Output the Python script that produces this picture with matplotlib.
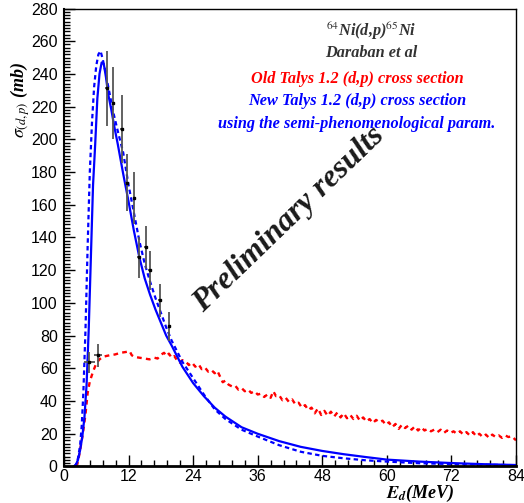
import matplotlib.pyplot as plt
from matplotlib.ticker import MultipleLocator

plt.rcParams['mathtext.fontset'] = 'stix'

# Daraban et al experimental points
exp_e = [4.74, 6.3, 8.05, 9.2, 10.8, 11.7, 13.1, 13.9, 15.2, 15.9, 17.8, 19.6]
exp_sig = [63.6, 67.9, 231.3, 222.5, 206.4, 173.5, 164.0, 128.0, 134.0, 120.0, 101.6, 85.7]
exp_dsig = [6.5, 7.0, 23.0, 22.0, 21.0, 17.5, 16.0, 12.5, 13.0, 12.0, 10.0, 9.0]
exp_de = [1.1, 0.75, 0.35, 0.35, 0.35, 0.35, 0.35, 0.35, 0.35, 0.35, 0.35, 0.35]

# new TALYS 1.2, solid curve
new_e = [1.8, 2.2, 2.6, 3.0, 3.4, 3.8, 4.2, 4.6, 5.0, 5.4, 5.8, 6.2, 6.6, 7.0, 7.4, 7.8,
         8.2, 8.8, 9.4, 10.0, 11.0, 12.0, 13.0, 14.0, 15.0, 16.0, 17.0, 18.0, 19.0, 20.0,
         22.0, 24.0, 26.0, 28.0, 30.0, 33.0, 36.0, 40.0, 44.0, 48.0, 52.0, 56.0, 60.0,
         66.0, 72.0, 78.0, 84.0]
new_sig = [0, 1, 4, 10, 18, 30, 50, 84, 128, 172, 197, 225, 240, 247, 246, 238,
           228, 218, 207, 197, 179, 162, 144, 128, 115, 105, 96, 88, 80, 74,
           61, 51, 43, 36, 30.5, 24, 20, 15.5, 12, 9.5, 7.5, 5.8, 4.2,
           3.0, 2.1, 1.4, 0.9]

# new TALYS 1.2, dashed curve
alt_e = [1.8, 2.2, 2.6, 3.0, 3.3, 3.6, 4.0, 4.4, 4.8, 5.2, 5.6, 6.0, 6.4, 6.8, 7.2,
         7.6, 8.0, 8.6, 9.2, 10.0, 11.0, 12.0, 13.0, 14.0, 15.0, 16.0, 17.0, 18.0, 19.0,
         20.0, 22.0, 24.0, 26.0, 28.0, 30.0, 33.0, 36.0, 40.0, 44.0, 48.0, 52.0, 56.0,
         60.0, 66.0, 72.0, 78.0, 84.0]
alt_sig = [0, 1, 5, 13, 25, 45, 84, 135, 180, 210, 232, 245, 252, 254, 249,
           243, 236, 226, 216, 205, 192, 172, 155, 138, 124, 113, 103, 94, 85,
           77, 64, 54, 44, 35, 29, 22.5, 18.3, 13, 9, 6.5, 5, 3.8,
           3.0, 2.0, 1.5, 1.1, 0.8]

# old TALYS 1.2
old_e = [2.3, 2.6, 3.0, 3.5, 4.0, 4.4, 4.8, 5.4, 6.0, 6.6, 7.2, 7.8, 8.5, 9.5, 10.5,
         11.5, 12.2, 12.6, 13.1, 14.0, 15.0, 15.9, 16.8, 17.4, 18.1, 18.6, 19.0, 19.5,
         20.0, 20.5, 21.0, 21.5, 22.0, 22.7, 23.2, 23.8, 24.4, 25.0, 25.6, 26.2, 26.8,
         27.4, 28.0, 28.5, 29.0, 29.5, 30.0, 30.6, 31.2, 31.8, 32.4, 33.0, 33.6, 34.2,
         34.8, 35.4, 36.0, 36.6, 37.2, 37.8, 38.4, 38.9, 39.4, 40.0, 40.6, 41.2, 41.8,
         42.4, 43.0, 43.6, 44.2, 44.8, 45.4, 46.0, 46.6, 47.2, 47.8, 48.4, 49.0, 49.6,
         50.2, 50.8, 51.4, 52.0, 52.6, 53.2, 53.8, 54.4, 55.0, 55.6, 56.2, 56.8, 57.4,
         58.0, 58.6, 59.2, 59.8, 60.4, 61.0, 61.6, 62.2, 62.8, 63.4, 64.0, 64.6, 65.2,
         65.8, 66.4, 67.0, 67.6, 68.2, 68.8, 69.4, 70.0, 70.6, 71.2, 71.8, 72.4, 73.0,
         73.6, 74.2, 74.8, 75.4, 76.0, 76.6, 77.2, 77.8, 78.4, 79.0, 79.6, 80.2, 80.8,
         81.4, 82.0, 82.6, 83.2, 84.0]
old_sig = [0, 3, 10, 20, 32, 45, 52, 58, 63, 65.5, 67, 67.5, 68, 68.5, 69.5,
           70, 70.5, 68, 67, 66.5, 66, 65.5, 66.5, 66, 68.5, 69.5, 67.5, 69,
           66.5, 67.5, 65, 63.5, 65, 64, 62, 63.5, 61, 62.5, 59.5, 60.5, 58,
           59, 57, 58.5, 55, 51.5, 52.5, 50, 49, 49.5, 47, 48, 46, 47,
           45, 46, 44, 44.5, 42.5, 44, 42, 46, 43, 43.5, 40.5, 42, 39.5,
           41, 38, 39, 36, 37.5, 34.5, 36, 32.5, 35.5, 31.5, 34, 31, 33.5,
           30.5, 33, 30, 32.5, 29.5, 31.5, 29, 31, 28, 30, 27.5, 29, 26.5,
           28.5, 27, 28, 25.5, 27, 24, 26, 23, 25.5, 23.5, 25, 22.5, 24.5,
           22, 24, 22, 23, 21.5, 22.5, 21, 22.5, 20.5, 22, 20.5, 21.5, 20,
           21.5, 19.5, 21, 19, 21, 18.5, 20, 18, 19.5, 17.5, 19.5, 18, 19,
           17.5, 19, 18, 18.5, 16]

serif = ['Liberation Serif', 'DejaVu Serif']
sans = ['Liberation Sans', 'DejaVu Sans']

fig = plt.figure(figsize=(5.24, 5.03), dpi=100)
ax = fig.add_axes([0.1221, 0.0726, 0.8626, 0.9105])

ax.plot(old_e, old_sig, color='red', lw=1.7, ls=(0, (2, 1.8)))
ax.plot(alt_e, alt_sig, color='blue', lw=1.6, ls=(0, (2, 1.5)))
ax.plot(new_e, new_sig, color='blue', lw=1.6)
ax.errorbar(exp_e, exp_sig, yerr=exp_dsig, xerr=exp_de, fmt='s', color='black',
            ms=2, ecolor='#555555', elinewidth=1.3, capsize=0)

ax.set_xlim(0, 84)
ax.set_ylim(0, 280)
ax.xaxis.set_major_locator(MultipleLocator(12))
ax.xaxis.set_minor_locator(MultipleLocator(2.4))
ax.yaxis.set_major_locator(MultipleLocator(20))
ax.yaxis.set_minor_locator(MultipleLocator(2))
ax.tick_params(which='both', direction='in', labelsize=11.5)
ax.tick_params(which='major', length=8, width=1)
ax.tick_params(which='minor', length=4, width=1)
for lab in ax.get_xticklabels() + ax.get_yticklabels():
    lab.set_family(sans)
ax.tick_params(axis='x', pad=2)
ax.tick_params(axis='y', pad=4.5)
ax.spines['bottom'].set_linewidth(2)
ax.spines['left'].set_linewidth(1.5)
ax.spines['top'].set_linewidth(1)
ax.spines['right'].set_linewidth(1)

# axis titles placed ROOT style, near the axis ends
fig.text(420 / 524, 1 - 493 / 503, r'$\mathbfit{E}_{\mathbfit{d}}$(MeV)', family=serif,
         fontsize=13, fontweight='bold', fontstyle='italic', ha='center', va='center')
fig.text(20 / 524, 1 - 100 / 503, r'$\sigma_{(d,p)}$ (mb)', family=serif,
         fontsize=13, fontweight='bold', fontstyle='italic', rotation=90,
         ha='center', va='center')

txt = dict(family=serif, fontweight='bold', fontstyle='italic', fontsize=11.7,
           ha='center', va='center', transform=fig.transFigure)
fig.text(371 / 524, 1 - 31 / 503, r'$^{64}$Ni(d,p)$^{65}$Ni', color='#333333', **txt)
fig.text(371 / 524, 1 - 53 / 503, 'Daraban et al', color='#333333', **txt)
fig.text(357 / 524, 1 - 79 / 503, 'Old Talys 1.2 (d,p) cross section', color='red', **txt)
fig.text(357 / 524, 1 - 101 / 503, 'New Talys 1.2 (d,p) cross section', color='blue', **txt)
fig.text(357 / 524, 1 - 124 / 503, 'using the semi-phenomenological param.',
         color='blue', **txt)

fig.text(289 / 524, 1 - 220 / 503, 'Preliminary results', family=serif,
         fontweight='bold', fontstyle='italic', fontsize=23, color='#1a1a1a',
         rotation=44, ha='center', va='center')

fig.savefig('out.png', dpi=100)
